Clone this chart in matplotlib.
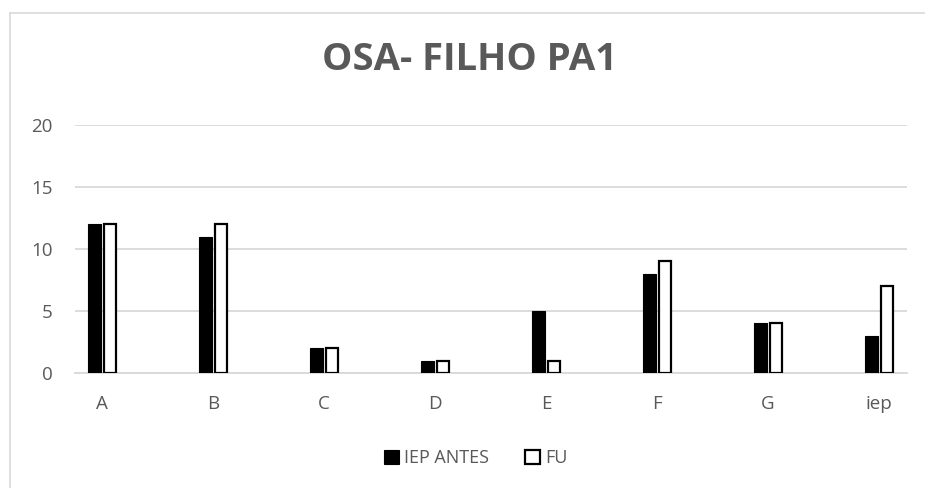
import matplotlib
matplotlib.use("Agg")
import matplotlib.pyplot as plt
import numpy as np
from matplotlib.lines import Line2D

categories = ["A", "B", "C", "D", "E", "F", "G", "iep"]
iep_antes = [12, 11, 2, 1, 5, 8, 4, 3]
fu = [12, 12, 2, 1, 1, 9, 4, 7]
yticks = [0, 5, 10, 15, 20]

plt.rcParams['font.family'] = ['Open Sans', 'DejaVu Sans']
W, H = 925, 488
fig = plt.figure(figsize=(W/100, H/100), dpi=100)

# chart border (top and left edges visible; others outside the image)
bx, by = 10/W, 1 - 13/H
fig.add_artist(Line2D([bx, 1.0], [by, by], transform=fig.transFigure,
                      color='#d9d9d9', linewidth=1.2))
fig.add_artist(Line2D([bx, bx], [0.0, by], transform=fig.transFigure,
                      color='#d9d9d9', linewidth=1.2))

ax = fig.add_axes([75/W, 115/H, (907-75)/W, (373-125)/H])
x = np.arange(len(categories))
bw = 0.118
off = 0.07
ax.bar(x - off, iep_antes, width=bw, color='black', edgecolor='black', linewidth=0.8,
       label='IEP ANTES', zorder=3)
ax.bar(x + off, fu, width=bw - 0.012, color='white', edgecolor='black', linewidth=1.6,
       label='FU', zorder=3)

ax.set_xlim(-0.243, 7.252)
ax.set_ylim(0, 20)
ax.set_yticks(yticks)
ax.set_xticks(x)
ax.set_xticklabels(categories)
ax.grid(axis='y', color='#d9d9d9', linewidth=1.3, zorder=0)
ax.set_axisbelow(True)
for s in ['top', 'right', 'left']:
    ax.spines[s].set_visible(False)
ax.spines['bottom'].set_color('#d9d9d9')
ax.spines['bottom'].set_linewidth(1.3)
ax.tick_params(axis='both', length=0, colors='#595959', labelsize=13.5)
ax.tick_params(axis='y', pad=16)
ax.tick_params(axis='x', pad=16)

fig.text(470/W, 1 - 60/H, "OSA- FILHO PA1", ha='center', va='center',
         fontsize=27.5, fontweight='bold', color='#595959')

leg = fig.legend(loc='center', bbox_to_anchor=(476/W, 1 - 458/H), ncol=2, frameon=False,
                 fontsize=13, handlelength=0.8, handleheight=0.8, handletextpad=0.3,
                 columnspacing=2.0)
for t in leg.get_texts():
    t.set_color('#595959')

fig.savefig("out.png", dpi=100)
